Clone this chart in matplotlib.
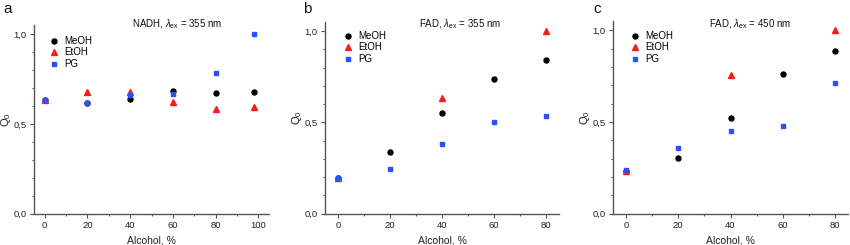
import matplotlib
matplotlib.use("Agg")
import matplotlib.pyplot as plt
from matplotlib.ticker import FuncFormatter, MultipleLocator

plt.rcParams['font.family'] = ['Liberation Sans', 'DejaVu Sans']
plt.rcParams['mathtext.fontset'] = 'custom'
plt.rcParams['mathtext.rm'] = 'Liberation Sans'
plt.rcParams['mathtext.it'] = 'Liberation Sans:italic'

# Panel a: NADH, 355 nm
a_x = [0, 20, 40, 60, 80, 98]
a_meoh = [0.630, 0.618, 0.637, 0.685, 0.672, 0.676]
a_etoh = [0.630, 0.676, 0.676, 0.624, 0.581, 0.593]
a_pg = [0.630, 0.615, 0.661, 0.667, 0.785, 1.000]

# Panel b: FAD, 355 nm
b_x = [0, 20, 40, 60, 80]
b_meoh = [0.196, 0.339, 0.554, 0.736, 0.840]
b_etoh_x = [0, 40, 80]
b_etoh = [0.195, 0.636, 1.000]
b_pg = [0.197, 0.246, 0.384, 0.501, 0.537]

# Panel c: FAD, 450 nm
c_x = [0, 20, 40, 60, 80]
c_meoh = [0.235, 0.306, 0.521, 0.759, 0.888]
c_etoh_x = [0, 40, 80]
c_etoh = [0.235, 0.756, 1.000]
c_pg = [0.237, 0.358, 0.448, 0.476, 0.712]

letters = ['a', 'b', 'c']
titles = [r'NADH, $\lambda_{\rm ex}$ = 355 nm',
          r'FAD, $\lambda_{\rm ex}$ = 355 nm',
          r'FAD, $\lambda_{\rm ex}$ = 450 nm']
xlims = [(-5, 105), (-5, 85), (-5, 85)]
xticks = [[0, 20, 40, 60, 80, 100], [0, 20, 40, 60, 80], [0, 20, 40, 60, 80]]

BLACK = '#000000'
RED = '#ff1a1a'
BLUE = '#2a50ff'
SPINE = '#555555'

W, H = 850, 245
fig = plt.figure(figsize=(W / 100, H / 100), dpi=100)

boxes = [(34, 269, 25), (325, 559, 22), (613, 848, 21)]
bottom_px = 213.7

series = [
    (a_x, a_meoh, a_x, a_etoh, a_x, a_pg),
    (b_x, b_meoh, b_etoh_x, b_etoh, b_x, b_pg),
    (c_x, c_meoh, c_etoh_x, c_etoh, c_x, c_pg),
]
title_x = [177, 460, 750]
letter_x = [3, 303, 593]
legend_x = [49, 343, 630]
legend_y = [36, 31, 31]

fmt = FuncFormatter(lambda v, p: f"{v:.1f}".replace('.', ','))

for i, (l, r, t) in enumerate(boxes):
    ax = fig.add_axes([l / W, 1 - bottom_px / H, (r - l) / W, (bottom_px - t) / H])
    mx, my, ex, ey, px, py = series[i]
    ax.plot(mx, my, 'o', color=BLACK, ms=3.6, mec=BLACK, label='MeOH', zorder=3)
    ax.plot(ex, ey, '^', color=RED, ms=3.8, mec=RED, label='EtOH', zorder=4)
    ax.plot(px, py, 's', color=BLUE, ms=3.0, mec=BLUE, label='PG', zorder=5)
    ax.set_xlim(*xlims[i])
    ax.set_ylim(0, 1.05)
    ax.set_xticks(xticks[i])
    ax.xaxis.set_minor_locator(MultipleLocator(10))
    ax.set_yticks([0, 0.5, 1.0])
    ax.yaxis.set_minor_locator(MultipleLocator(0.1))
    ax.yaxis.set_major_formatter(fmt)
    for s in ['top', 'right']:
        ax.spines[s].set_visible(False)
    for s in ['left', 'bottom']:
        ax.spines[s].set_color(SPINE)
        ax.spines[s].set_linewidth(1.0)
    ax.tick_params(which='major', direction='out', length=3, width=0.8,
                   color=SPINE, labelsize=6.8, pad=2.5, labelcolor='#222222')
    ax.tick_params(which='minor', direction='out', length=1.5, width=0.8, color=SPINE)
    ax.set_xlabel('Alcohol, %', fontsize=7.5, labelpad=4, color='#222222')
    ax.set_ylabel('Q$_0$', fontsize=8, color='#222222')
    ax.yaxis.set_label_coords(-21 / (r - l), 0.5)
    fig.text(title_x[i] / W, 1 - 24 / H, titles[i], fontsize=7, ha='center',
             va='center', color='#111111')
    fig.text(letter_x[i] / W, 1 - 2 / H, letters[i], fontsize=11, ha='left',
             va='top', color='#111111')
    ax.legend(loc='upper left', bbox_to_anchor=(legend_x[i] / W, 1 - legend_y[i] / H),
              bbox_transform=fig.transFigure, frameon=False, fontsize=7,
              handlelength=1.0, handletextpad=0.6, labelspacing=0.15,
              borderpad=0, borderaxespad=0)

fig.savefig('out.png', dpi=100)
